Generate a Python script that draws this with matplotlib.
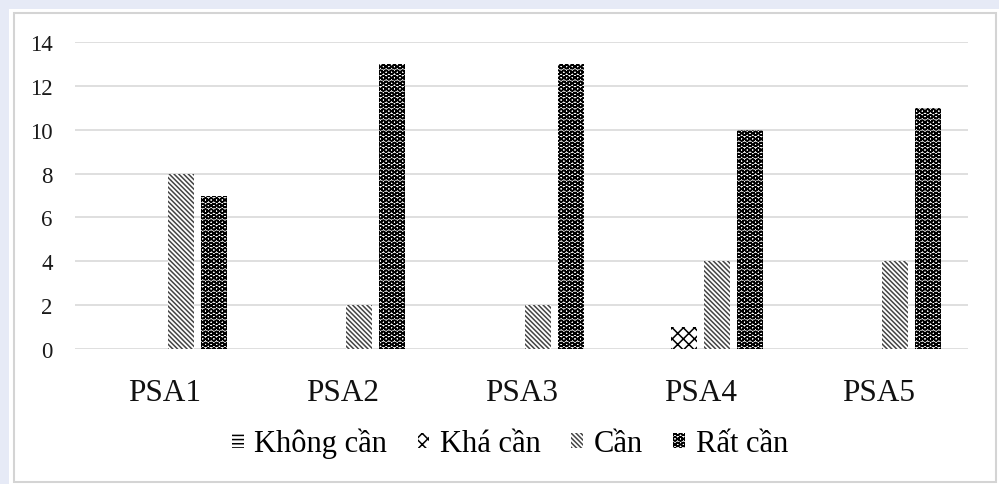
import matplotlib
matplotlib.use("Agg")
import matplotlib.pyplot as plt
import numpy as np
from matplotlib.patches import Rectangle

categories = ["PSA1", "PSA2", "PSA3", "PSA4", "PSA5"]
series_names = ["Không cần", "Khá cần", "Cần", "Rất cần"]
khong_can = [0, 0, 0, 0, 0]
kha_can = [0, 0, 0, 1, 0]
can = [8, 2, 2, 4, 4]
rat_can = [7, 13, 13, 10, 11]
y_ticks = [0, 2, 4, 6, 8, 10, 12, 14]

plt.rcParams["font.family"] = ["Liberation Serif", "DejaVu Serif"]
plt.rcParams["hatch.linewidth"] = 1.1

W, H = 999, 485
fig = plt.figure(figsize=(W / 100, H / 100), dpi=100, facecolor="#e6eaf6")

# white chart panel with a thin grey frame
fig.patches.append(Rectangle((9 / W, 0), 1 - 9 / W, 1 - 10 / H, transform=fig.transFigure,
                             facecolor="white", edgecolor="none", zorder=0))
fig.patches.append(Rectangle((14 / W, 2 / H), (996 - 14) / W, (483 - 14) / H, transform=fig.transFigure,
                             facecolor="none", edgecolor="#d4d4d4", linewidth=1.5, zorder=1))

ax = fig.add_axes([75 / W, 1 - 350 / H, (968 - 75) / W, (350 - 43) / H])
ax.set_facecolor("none")
ax.set_zorder(5)

x = np.arange(len(categories))
pitch = 0.185
width = 0.146
styles = [
    dict(facecolor="white", edgecolor="black", hatch="----"),
    dict(facecolor="white", edgecolor="black", hatch="xxx"),
    dict(facecolor="white", edgecolor="#444444", hatch="\\\\\\\\\\\\\\"),
    dict(facecolor="white", edgecolor="black", hatch="OOO"),
]
data = [khong_can, kha_can, can, rat_can]
handles = []
for i, (vals, name, st) in enumerate(zip(data, series_names, styles)):
    b = ax.bar(x + (i - 1.5) * pitch, vals, width, label=name, linewidth=0, zorder=3, **st)
    handles.append(b)

ax.set_xlim(-0.5, len(categories) - 0.5)
ax.set_ylim(0, 14)
ax.set_yticks(y_ticks)
ax.set_yticklabels([str(t) for t in y_ticks], fontsize=16.5, color="#1a1a1a")
ax.set_xticks(x)
ax.set_xticklabels(categories, fontsize=22.5, color="#111111")
ax.tick_params(axis="both", length=0)
ax.tick_params(axis="y", pad=16)
ax.tick_params(axis="x", pad=21)
ax.grid(axis="y", color="#d9d9d9", linewidth=1.2, zorder=0)
ax.set_axisbelow(True)
for s in ax.spines.values():
    s.set_visible(False)

leg = fig.legend(handles=handles, labels=series_names, loc="center", bbox_to_anchor=(510 / W, 1 - 444 / H),
                 ncol=4, frameon=False, fontsize=22, handlelength=0.38, handleheight=0.38,
                 handletextpad=0.35, columnspacing=1.0)

fig.savefig("out.png", dpi=100, facecolor=fig.get_facecolor())
